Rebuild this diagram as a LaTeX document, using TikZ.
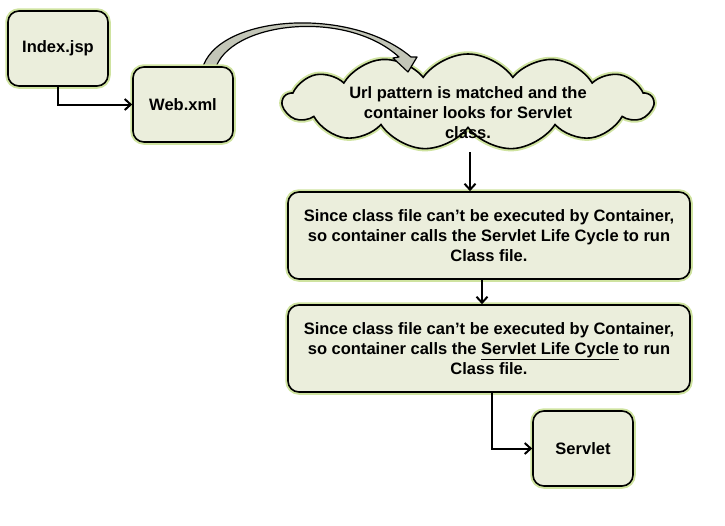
\documentclass[tikz,border=0pt]{standalone}
\usepackage{fontspec}
\setmainfont{Liberation Sans}
\usetikzlibrary{shapes.symbols,arrows.meta}
\definecolor{boxfill}{HTML}{EBEEDC}
\definecolor{glow}{HTML}{CFE3A0}
\definecolor{bigarrow}{HTML}{C3C6B8}
\tikzset{
  glowbox/.style={draw=black, line width=1.6pt, fill=boxfill,
    preaction={draw=glow, line width=5.5pt}},
  roundbox/.style={glowbox, rounded corners=11pt, align=center,
    font=\bfseries\fontsize{16.5}{20}\selectfont, inner sep=0pt},
  conn/.style={draw=black, line width=2pt, -{Straight Barb[length=6pt,width=11pt,line width=2pt]}}
}
\begin{document}
\begin{tikzpicture}[x=1pt,y=-1pt]
\useasboundingbox (0,0) rectangle (725,525);
% cloud
\node[glowbox, cloud, cloud puffs=13, cloud puff arc=110, cloud ignores aspect,
  minimum width=370pt, minimum height=96pt, inner sep=0pt] (cloud) at (468,102) {};
\node[align=center, font=\bfseries\fontsize{16.5}{20}\selectfont] (cloudtext) at (468,113)
  {Url pattern is matched and the\\container looks for Servlet\\class.};
\coordinate (cloudbot) at (470,152);
% curved block arrow
\path[draw=black, line width=1.2pt, fill=bigarrow, line join=round]
  (202,70) .. controls (215,15) and (350,5) .. (411,57) -- (417,57) -- (408,72)
  -- (393,58) -- (399,57) .. controls (345,8) and (228,22) .. (215,70) -- cycle;
% boxes
\node[roundbox, minimum width=100pt, minimum height=75pt] (idx) at (58,48.5) {Index.jsp};
\node[roundbox, minimum width=100pt, minimum height=75pt] (web) at (183,104.5) {Web.xml};
\node[roundbox, minimum width=402pt, minimum height=87pt] (box1) at (489,235.5)
  {Since class file can’t be executed by Container,\\so container calls the Servlet Life Cycle to run\\Class file.};
\node[roundbox, minimum width=402pt, minimum height=87pt] (box2) at (489,348.5)
  {Since class file can’t be executed by Container,\\so container calls the \underline{Servlet Life Cycle} to run\\Class file.};
\node[roundbox, minimum width=100pt, minimum height=75pt] (serv) at (583,448.5) {Servlet};
% connectors
\draw[conn] (idx.south) |- (web.west);
\draw[conn] (cloudbot) -- (cloudbot |- box1.north);
\draw[conn] ([xshift=-7pt]box1.south) -- ([xshift=-7pt]box2.north);
\draw[conn] ([xshift=3pt]box2.south) |- (serv.west);
\end{tikzpicture}
\end{document}
